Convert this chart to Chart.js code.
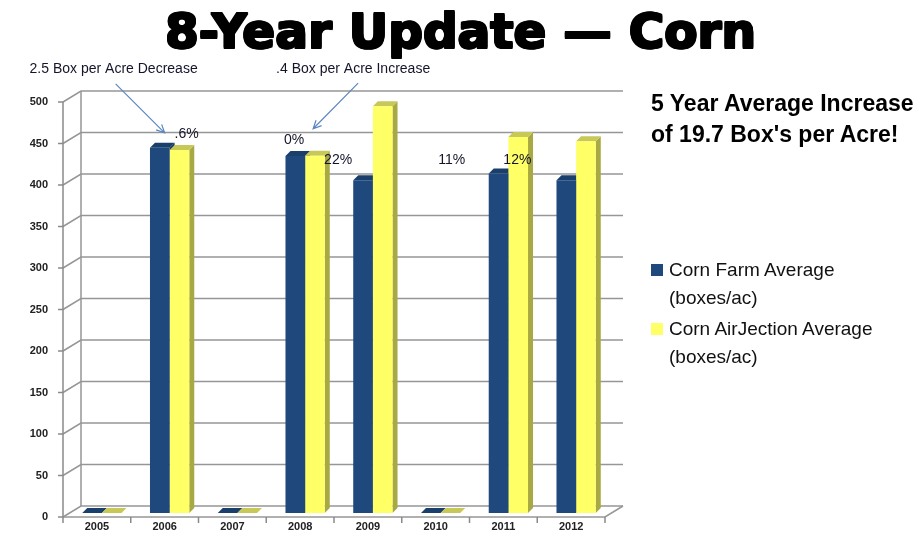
<!DOCTYPE html>
<html>
<head>
<meta charset="utf-8">
<script src="https://cdn.jsdelivr.net/npm/chart.js@4/dist/chart.umd.min.js"></script>
<style>
body{margin:0;background:#fff;font-family:"Liberation Sans",Arial,sans-serif}
#page{position:relative;width:921px;height:544px;overflow:hidden;background:#fff}
#title{position:absolute;left:0;top:3px;width:921px;text-align:center;font:bold 48.5px "DejaVu Sans",sans-serif;color:#000;white-space:nowrap;
text-shadow:1px 0 0 #000,-1px 0 0 #000,0 1px 0 #000,0 -1px 0 #000,1px 1px 0 #000,-1px -1px 0 #000,1px -1px 0 #000,-1px 1px 0 #000}
#chart{position:absolute;left:0;top:0}
#note{position:absolute;left:651px;top:88px;font:bold 23px "Liberation Sans",sans-serif;line-height:31px;color:#000}
#legend{position:absolute;left:651px;top:256px;font:19px "Liberation Sans",sans-serif;color:#111}
.item{position:relative;padding-left:18px;line-height:28px;margin-bottom:3px}
.box{position:absolute;left:0;top:8px;width:12px;height:12px}
</style>
</head>
<body>
<div id="page">
<canvas id="chart" width="921" height="544"></canvas>
<div id="title">8-Year Update — Corn</div>
<div id="note">5 Year Average Increase<br>of 19.7 Box's per Acre!</div>
<div id="legend"></div>
</div>
<script>

// yields per year, boxes per acre
let years=["2005","2006","2007","2008","2009","2010","2011","2012"]
let farmAvg=[0,440,0,430,401,0,409,401]
let airAvg=[0,437.5,0,430.4,490,0,453,448]
let yTicks=[0,50,100,150,200,250,300,350,400,450,500]

let seriesNames=["Corn Farm Average\n(boxes/ac)","Corn AirJection Average\n(boxes/ac)"]
let fronts=["#1F497D","#FFFF66"]
let sides=["#17365D","#A9A944"]
let caps=["#1A3F6B","#C8C858"]

// percent notes, anchored to a category and a value on the y scale
let pctNotes=[
{text:".6%",cat:1,dx:17,v:457},
{text:"0%",cat:3,dx:-11,v:449},
{text:"22%",cat:3,dx:33,v:425},
{text:"11%",cat:5,dx:11,v:425},
{text:"12%",cat:6,dx:9,v:425}
]

let arrowNotes=[
{text:"2.5 Box per Acre Decrease",cat:1,tx:-56,tv:535,fx:-54,fv:517,dx:-5,v:458},
{text:".4 Box per Acre Increase",cat:3,tx:48,tv:535,fx:53,fv:518,dx:8,v:463}
]

let depth=5
let front={x:-5,y:4}
let back={x:13,y:-7}


// back wall, floor and front axis
let wallPlugin={
id:"wall",
beforeDatasetsDraw(chart){

let ctx=chart.ctx
let ca=chart.chartArea
let ys=chart.scales.y

ctx.save()
ctx.strokeStyle="#969696"
ctx.lineWidth=1.5

yTicks.forEach(v=>{
let y=ys.getPixelForValue(v)
ctx.beginPath()
ctx.moveTo(ca.left+front.x,y+front.y)
ctx.lineTo(ca.left+back.x,y+back.y)
ctx.lineTo(ca.right+back.x,y+back.y)
ctx.stroke()
})

let y0=ys.getPixelForValue(0)
let yTop=ys.getPixelForValue(500)

ctx.beginPath()
ctx.moveTo(ca.left+back.x,yTop+back.y)
ctx.lineTo(ca.left+back.x,y0+back.y)
ctx.stroke()

// floor front edge
ctx.beginPath()
ctx.moveTo(ca.left+front.x,y0+front.y)
ctx.lineTo(ca.right+front.x,y0+front.y)
ctx.lineTo(ca.right+back.x,y0+back.y)
ctx.stroke()

// front axis with tick marks
ctx.strokeStyle="#8a8a8a"
ctx.beginPath()
ctx.moveTo(ca.left+front.x,yTop+front.y)
ctx.lineTo(ca.left+front.x,y0+front.y)
yTicks.forEach(v=>{
let y=ys.getPixelForValue(v)+front.y
ctx.moveTo(ca.left+front.x-5,y)
ctx.lineTo(ca.left+front.x,y)
})
let step=(ca.right-ca.left)/years.length
for(let i=0;i<=years.length;i++){
let x=ca.left+front.x+i*step
ctx.moveTo(x,y0+front.y)
ctx.lineTo(x,y0+front.y+6)
}
ctx.stroke()

// side and top faces of the bars
chart.data.datasets.forEach((ds,di)=>{
chart.getDatasetMeta(di).data.forEach(bar=>{
let p=bar.getProps(["x","y","base","width"],true)
let x1=p.x-p.width/2
let x2=p.x+p.width/2

ctx.fillStyle=sides[di]
ctx.beginPath()
ctx.moveTo(x2,p.y)
ctx.lineTo(x2+depth,p.y-depth)
ctx.lineTo(x2+depth,p.base-depth)
ctx.lineTo(x2,p.base)
ctx.closePath()
ctx.fill()

ctx.fillStyle=caps[di]
ctx.beginPath()
ctx.moveTo(x1,p.y)
ctx.lineTo(x1+depth,p.y-depth)
ctx.lineTo(x2+depth,p.y-depth)
ctx.lineTo(x2,p.y)
ctx.closePath()
ctx.fill()
})
})

ctx.restore()

}
}


// percent labels and arrow callouts
let notePlugin={
id:"notes",
afterDatasetsDraw(chart){

let ctx=chart.ctx
let xs=chart.scales.x
let ys=chart.scales.y

ctx.save()
ctx.textAlign="center"
ctx.textBaseline="middle"

ctx.font='14px "Liberation Sans", sans-serif'
ctx.fillStyle="#14142a"
pctNotes.forEach(n=>{
ctx.fillText(n.text,xs.getPixelForValue(n.cat)+n.dx,ys.getPixelForValue(n.v))
})

arrowNotes.forEach(n=>{
let cx=xs.getPixelForValue(n.cat)

ctx.fillStyle="#14142a"
ctx.fillText(n.text,cx+n.tx,ys.getPixelForValue(n.tv))

let ax=cx+n.fx,ay=ys.getPixelForValue(n.fv)
let bx=cx+n.dx,by=ys.getPixelForValue(n.v)
let ang=Math.atan2(by-ay,bx-ax)

ctx.strokeStyle="#5b87c0"
ctx.lineWidth=1.2
ctx.beginPath()
ctx.moveTo(ax,ay)
ctx.lineTo(bx,by)
ctx.moveTo(bx-9*Math.cos(ang-0.45),by-9*Math.sin(ang-0.45))
ctx.lineTo(bx,by)
ctx.lineTo(bx-9*Math.cos(ang+0.45),by-9*Math.sin(ang+0.45))
ctx.stroke()
})

ctx.restore()

}
}


let chart=new Chart(document.getElementById("chart"),{

type:"bar",

data:{
labels:years,
datasets:[
{label:seriesNames[0],data:farmAvg,backgroundColor:fronts[0]},
{label:seriesNames[1],data:airAvg,backgroundColor:fronts[1]}
]
},

options:{
responsive:false,
animation:false,
layout:{padding:{top:98,right:311,left:0,bottom:0}},
categoryPercentage:0.58,
barPercentage:1,
plugins:{
legend:{display:false},
tooltip:{enabled:false}
},
scales:{
x:{
grid:{display:false,drawTicks:false},
border:{display:false},
ticks:{color:"#222",font:{family:"Liberation Sans",size:11,weight:"bold"},padding:7,labelOffset:-5},
afterFit:s=>{s.height=31}
},
y:{
min:0,
max:500,
grid:{display:false,drawTicks:false},
border:{display:false},
ticks:{stepSize:50,color:"#222",font:{family:"Liberation Sans",size:11,weight:"bold"},padding:20,labelOffset:4},
afterFit:s=>{s.width=68}
}
}
},

plugins:[wallPlugin,notePlugin]

})


// legend beside the chart
let legend=document.getElementById("legend")
seriesNames.forEach((name,i)=>{
let item=document.createElement("div")
item.className="item"
item.innerHTML=`<span class="box" style="background:${fronts[i]}"></span>`+name.replace("\n","<br>")
legend.appendChild(item)
})

</script>
</body>
</html>
